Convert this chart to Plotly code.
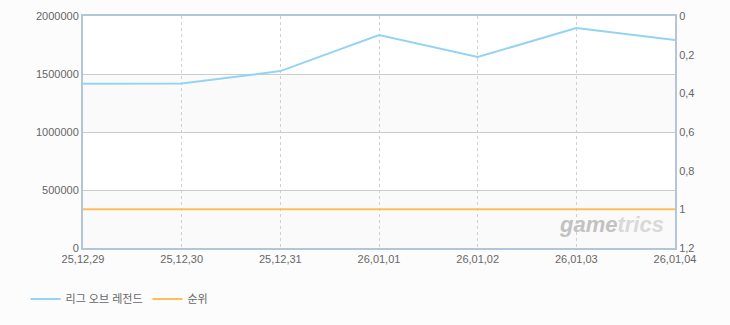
import plotly.graph_objects as go

dates = ["25,12,29", "25,12,30", "25,12,31", "26,01,01", "26,01,02", "26,01,03", "26,01,04"]
lol_values = [1415000, 1418000, 1525000, 1836000, 1646000, 1897000, 1793000]
rank_values = [1, 1, 1, 1, 1, 1, 1]
series_names = ["리그 오브 레전드", "순위"]
y_ticks = [0, 500000, 1000000, 1500000, 2000000]
y2_ticks = [0, 0.2, 0.4, 0.6, 0.8, 1, 1.2]
y2_labels = ["0", "0,2", "0,4", "0,6", "0,8", "1", "1,2"]

FONT = "Liberation Sans, Arial, Noto Sans CJK KR, sans-serif"
TXT = "#666666"

fig = go.Figure()
fig.add_trace(go.Scatter(x=dates, y=lol_values, name=series_names[0], mode="lines",
                         line=dict(color="#95d3f3", width=2)))
fig.add_trace(go.Scatter(x=dates, y=rank_values, name=series_names[1], mode="lines",
                         line=dict(color="#ffbd5c", width=2), yaxis="y2"))

# alternating bands
for lo, hi in [(0, 500000), (1000000, 1500000)]:
    fig.add_shape(type="rect", xref="paper", yref="y", x0=0, x1=1, y0=lo, y1=hi,
                  fillcolor="#fafafa", line=dict(width=0), layer="below")

fig.add_annotation(xref="paper", yref="paper", x=0.985, y=0.04, xanchor="right", yanchor="bottom",
                   text="<b><i>game<span style='color:#d9d9d9'>trics</span></i></b>",
                   showarrow=False, font=dict(family=FONT, size=22, color="#c2c2c2"))

fig.update_layout(
    width=730, height=325,
    margin=dict(l=83, r=55, t=16, b=77, autoexpand=False),
    paper_bgcolor="#fcfcfc", plot_bgcolor="#ffffff",
    font=dict(family=FONT, size=11, color=TXT),
    showlegend=True,
    legend=dict(orientation="h", xref="container", yref="container", x=0.035, y=0.08,
                xanchor="left", yanchor="middle",
                font=dict(size=11, color=TXT), bgcolor="rgba(0,0,0,0)",
                itemwidth=30),
    xaxis=dict(type="category", range=[0, 6], showgrid=True, gridcolor="#cfcfcf", griddash="3px,3px",
               gridwidth=1, showline=True, linecolor="#b3c5d8", linewidth=2, mirror=True,
               ticks="", ticklabelstandoff=0, tickfont=dict(size=11, color=TXT), zeroline=False),
    yaxis=dict(range=[0, 2000000], tickvals=y_ticks, tickformat="d", showgrid=True,
               gridcolor="#cccccc", gridwidth=1, showline=True, linecolor="#b3c5d8", linewidth=2,
               ticks="", ticklabelstandoff=0, tickfont=dict(size=11, color=TXT), zeroline=False),
    yaxis2=dict(range=[1.2, 0], overlaying="y", side="right", tickvals=y2_ticks,
                ticktext=y2_labels, showgrid=False, showline=True, linecolor="#b3c5d8",
                linewidth=2, ticks="", ticklabelstandoff=0, tickfont=dict(size=11, color=TXT), zeroline=False),
)

fig.write_html("out.html")
